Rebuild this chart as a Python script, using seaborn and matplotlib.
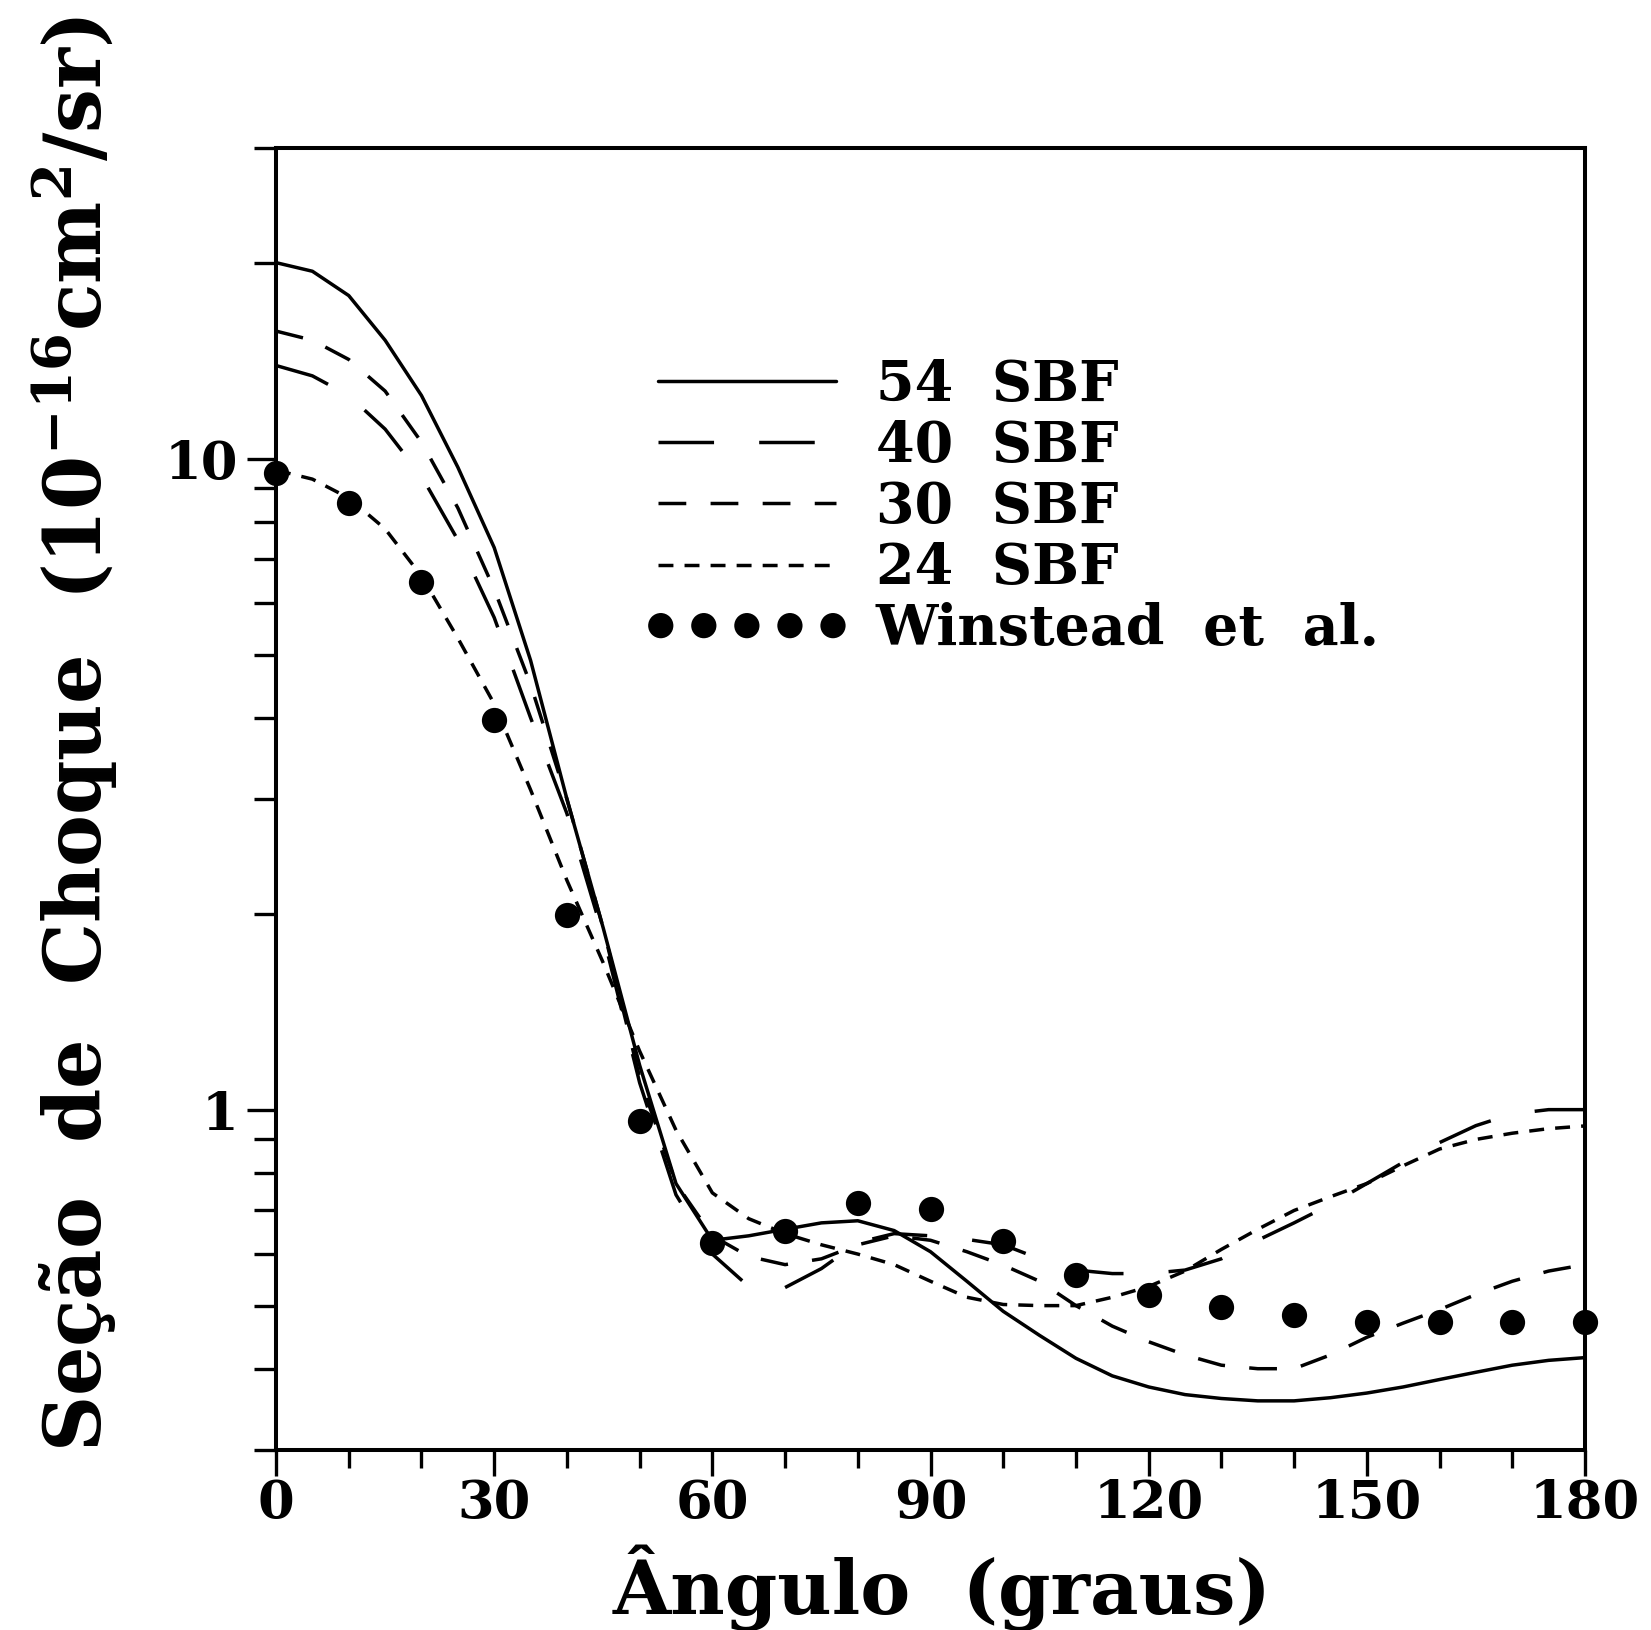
import numpy as np
import pandas as pd
import matplotlib
matplotlib.use("Agg")
import matplotlib.pyplot as plt
import seaborn as sns
from matplotlib.ticker import FixedLocator, FixedFormatter, NullFormatter
from matplotlib.legend_handler import HandlerPathCollection

# ---------------- data ----------------
angles = list(range(0, 181, 5))

sbf54 = [20.0, 19.4, 17.8, 15.2, 12.5, 9.7, 7.3, 4.9, 3.0, 1.9, 1.17, 0.77,
         0.63, 0.64, 0.655, 0.67, 0.675, 0.652, 0.605, 0.545, 0.49, 0.45, 0.415,
         0.39, 0.375, 0.365, 0.36, 0.357, 0.357, 0.361, 0.367, 0.375, 0.385,
         0.395, 0.405, 0.412, 0.416]

sbf40 = [13.9, 13.4, 12.5, 11.1, 9.4, 7.5, 5.7, 4.0, 2.85, 1.85, 1.1, 0.74,
         0.60, 0.535, 0.533, 0.57, 0.625, 0.645, 0.64, 0.632, 0.62, 0.59, 0.567,
         0.56, 0.56, 0.567, 0.59, 0.63, 0.67, 0.715, 0.77, 0.83, 0.89,
         0.945, 0.985, 1.0, 1.0]

sbf30 = [15.7, 15.2, 14.2, 12.7, 10.6, 8.4, 6.3, 4.5, 3.0, 1.9, 1.12, 0.77,
         0.64, 0.595, 0.578, 0.59, 0.62, 0.64, 0.63, 0.605, 0.577, 0.545, 0.50,
         0.465, 0.44, 0.42, 0.405, 0.40, 0.40, 0.42, 0.447, 0.47, 0.493,
         0.52, 0.545, 0.565, 0.578]

sbf24 = [9.6, 9.3, 8.7, 7.8, 6.6, 5.3, 4.2, 3.1, 2.25, 1.68, 1.23, 0.93,
         0.745, 0.68, 0.645, 0.62, 0.60, 0.578, 0.545, 0.515, 0.502, 0.50, 0.50,
         0.515, 0.535, 0.565, 0.61, 0.655, 0.70, 0.735, 0.77, 0.82, 0.87,
         0.90, 0.92, 0.935, 0.944]

exp_angles = list(range(0, 181, 10))
winstead = [9.5, 8.55, 6.46, 3.97, 1.99, 0.96, 0.625, 0.65, 0.719, 0.703,
            0.628, 0.558, 0.519, 0.497, 0.483, 0.472, 0.472, 0.472, 0.472]

series_labels = ["54  SBF", "40  SBF", "30  SBF", "24  SBF"]
exp_label = "Winstead  et  al."

x_ticks = [0, 30, 60, 90, 120, 150, 180]
x_minor = [10, 20, 40, 50, 70, 80, 100, 110, 130, 140, 160, 170]
y_ticks = [1, 10]
y_tick_labels = ["1", "10"]
y_minor = [0.3, 0.4, 0.5, 0.6, 0.7, 0.8, 0.9, 2, 3, 4, 5, 6, 7, 8, 9, 20, 30]

x_label = "Ângulo  (graus)"
y_label = r"Seção  de  Choque  (10$^{-16}$cm$^{2}$/sr)"

# ---------------- style ----------------
sns.set_theme(style="ticks")
plt.rcParams["font.family"] = ["DejaVu Serif"]
plt.rcParams["font.weight"] = "bold"
plt.rcParams["mathtext.fontset"] = "dejavuserif"
plt.rcParams["mathtext.default"] = "bf"
for k in ["text.color", "axes.labelcolor", "xtick.color", "ytick.color",
          "axes.edgecolor"]:
    plt.rcParams[k] = "black"

fig = plt.figure(figsize=(16.51, 16.30), dpi=100)
ax = fig.add_axes([0.1672, 0.1104, 0.7928, 0.7988])
ax.set_yscale("log")

line_styles = ["-", (0, (16, 13)), (0, (8, 7)), (0, (4.3, 3.2))]
for vals, ls in zip([sbf54, sbf40, sbf30, sbf24], line_styles):
    sns.lineplot(x=angles, y=vals, ax=ax, color="black", linewidth=2.5,
                 linestyle=ls, errorbar=None, legend=False)

sns.scatterplot(x=exp_angles, y=winstead, ax=ax, color="black", s=330,
                linewidth=0, clip_on=False, zorder=5, legend=False)

ax.set_xlim(0, 180)
ax.set_ylim(0.3, 30)

ax.xaxis.set_major_locator(FixedLocator(x_ticks))
ax.xaxis.set_major_formatter(FixedFormatter([str(t) for t in x_ticks]))
ax.xaxis.set_minor_locator(FixedLocator(x_minor))
ax.yaxis.set_major_locator(FixedLocator(y_ticks))
ax.yaxis.set_major_formatter(FixedFormatter(y_tick_labels))
ax.yaxis.set_minor_locator(FixedLocator(y_minor))
ax.yaxis.set_minor_formatter(NullFormatter())

ax.tick_params(axis="both", which="both", direction="out", top=False,
               right=False, width=2.4, color="black", labelcolor="black")
ax.tick_params(axis="x", which="major", length=19, labelsize=38, pad=1)
ax.tick_params(axis="x", which="minor", length=13)
ax.tick_params(axis="y", which="major", length=21, labelsize=38, pad=6)
ax.tick_params(axis="y", which="minor", length=16)

for sp in ax.spines.values():
    sp.set_visible(True)
    sp.set_linewidth(2.9)
    sp.set_color("black")

ax.set_xlabel(x_label, fontsize=54, fontweight="bold", color="black")
ax.xaxis.set_label_coords(0.509, -0.106)
ax.xaxis.label.set_va("center")
ax.set_ylabel(y_label, fontsize=56, fontweight="bold", color="black")
ax.yaxis.set_label_coords(-0.154, 0.55)
ax.yaxis.label.set_va("center")

dots = ax.collections[-1]
handles = list(ax.get_lines()[:4]) + [dots]
labels = series_labels + [exp_label]
leg = ax.legend(handles, labels, loc="upper left",
                bbox_to_anchor=(0.2918, 0.839),
                frameon=False, fontsize=40, handlelength=3.2,
                handletextpad=0.72, labelspacing=0.11, borderpad=0,
                borderaxespad=0,
                handler_map={dots: HandlerPathCollection(marker_pad=0.05,
                                                         numpoints=5,
                                                         yoffsets=[0.5] * 5)})
for t in leg.get_texts():
    t.set_color("black")

fig.savefig("out.png", dpi=100, facecolor="white")
